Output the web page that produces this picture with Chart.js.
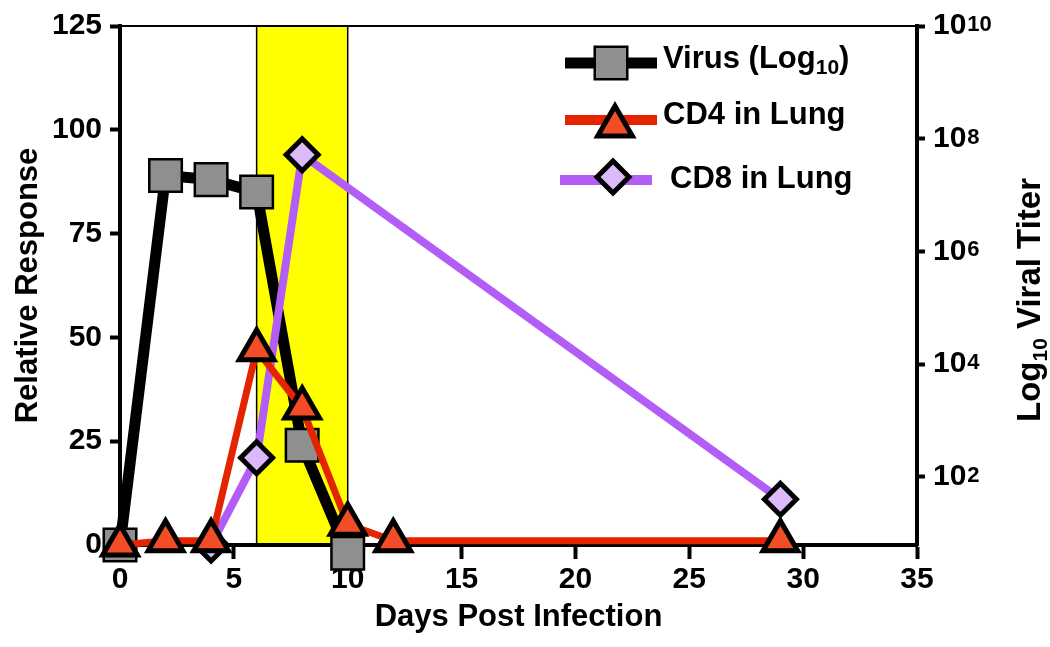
<!DOCTYPE html>
<html>
<head>
<meta charset="utf-8">
<script src="https://cdn.jsdelivr.net/npm/chart.js@4.4.0/dist/chart.umd.min.js"></script>
<style>
  html, body { margin: 0; padding: 0; background: #fff; }
</style>
</head>
<body>
<canvas id="chart" width="1050" height="647"></canvas>
<script>
// values (relative response, 0-125)
const virusDays = [0, 2, 4, 6, 8, 10];
const virusResponse = [0, 89, 88, 85, 24, -2];
const cd4Days = [0, 2, 4, 6, 8, 10, 12, 29];
const cd4Response = [0, 1, 1, 47, 33, 5, 1, 1];
const cd8Days = [4, 6, 8, 29];
const cd8Response = [0, 21, 94, 11];
const titerExponents = [2, 4, 6, 8, 10];
const shadedDays = [6, 10];

const FONT = "'Liberation Sans', Arial, Helvetica, sans-serif";
const BLACK = "#000";

const toPoints = (xs, ys) => xs.map((x, i) => ({ x: x, y: ys[i] }));

const bandPlugin = {
  id: "band",
  beforeDraw(chart) {
    const { ctx, chartArea, scales } = chart;
    const x0 = scales.x.getPixelForValue(shadedDays[0]);
    const x1 = scales.x.getPixelForValue(shadedDays[1]);
    ctx.save();
    ctx.fillStyle = "#ffff00";
    ctx.fillRect(x0, chartArea.top, x1 - x0, chartArea.bottom - chartArea.top);
    ctx.strokeStyle = BLACK;
    ctx.lineWidth = 1.5;
    ctx.beginPath();
    ctx.moveTo(x0, chartArea.top);
    ctx.lineTo(x0, chartArea.bottom);
    ctx.moveTo(x1, chartArea.top);
    ctx.lineTo(x1, chartArea.bottom);
    ctx.stroke();
    // thin frame line on top
    ctx.lineWidth = 2;
    ctx.beginPath();
    ctx.moveTo(chartArea.left, chartArea.top);
    ctx.lineTo(chartArea.right, chartArea.top);
    ctx.stroke();
    ctx.restore();
  },
};

const rightLabelsPlugin = {
  id: "rightLabels",
  afterDraw(chart) {
    const { ctx, chartArea } = chart;
    const y2 = chart.scales.y2;
    ctx.save();
    ctx.fillStyle = BLACK;
    titerExponents.forEach((e) => {
      const y = y2.getPixelForValue(10 ** e);
      const x = chartArea.right + 16;
      ctx.font = "bold 30px " + FONT;
      ctx.textBaseline = "middle";
      ctx.textAlign = "left";
      ctx.fillText("10", x, y);
      const w = ctx.measureText("10").width;
      ctx.font = "bold 22px " + FONT;
      ctx.textBaseline = "alphabetic";
      ctx.fillText(String(e), x + w + 1, y + 5);
    });

    // right axis title, reads bottom to top
    const cx = 1031;
    const cy = 300;
    ctx.translate(cx, cy);
    ctx.rotate(-Math.PI / 2);
    ctx.textBaseline = "middle";
    ctx.textAlign = "left";
    const big = "bold 33px " + FONT;
    const small = "bold 21px " + FONT;
    ctx.font = big;
    const wLog = ctx.measureText("Log").width;
    const wRest = ctx.measureText(" Viral Titer").width;
    ctx.font = small;
    const wSub = ctx.measureText("10").width;
    let x = -(wLog + wSub + wRest) / 2;
    ctx.font = big;
    ctx.fillText("Log", x, 0);
    x += wLog;
    ctx.font = small;
    ctx.fillText("10", x, 10);
    x += wSub;
    ctx.font = big;
    ctx.fillText(" Viral Titer", x, 0);
    ctx.restore();
  },
};

const legendPlugin = {
  id: "sideLegend",
  afterDraw(chart) {
    const { ctx } = chart;
    const sets = chart.data.datasets;
    const rows = [
      { ds: sets[2], x0: 565, x1: 657, y: 63, mx: 611, my: 63, tx: 663, ty: 68, lw: 11 },
      { ds: sets[0], x0: 565, x1: 657, y: 120, mx: 615, my: 126, tx: 663, ty: 124, lw: 10 },
      { ds: sets[1], x0: 560, x1: 652, y: 180, mx: 613, my: 177, tx: 670, ty: 188, lw: 10 },
    ];
    ctx.save();
    rows.forEach((r) => {
      const ds = r.ds;
      ctx.strokeStyle = ds.borderColor;
      ctx.lineWidth = r.lw;
      ctx.lineCap = "butt";
      ctx.beginPath();
      ctx.moveTo(r.x0, r.y);
      ctx.lineTo(r.x1, r.y);
      ctx.stroke();
      ctx.fillStyle = ds.pointBackgroundColor;
      ctx.strokeStyle = ds.pointBorderColor;
      ctx.lineWidth = ds.pointBorderWidth;
      ctx.lineJoin = "miter";
      Chart.helpers.drawPoint(ctx, {
        pointStyle: ds.pointStyle,
        radius: ds.pointRadius,
        rotation: 0,
        borderWidth: ds.pointBorderWidth,
      }, r.mx, r.my);

      ctx.fillStyle = BLACK;
      ctx.textAlign = "left";
      ctx.textBaseline = "alphabetic";
      ctx.font = "bold 31px " + FONT;
      if (ds.label === "Virus (Log10)") {
        let x = r.tx;
        ctx.fillText("Virus (Log", x, r.ty);
        x += ctx.measureText("Virus (Log").width;
        ctx.font = "bold 21px " + FONT;
        ctx.fillText("10", x, r.ty + 6);
        x += ctx.measureText("10").width;
        ctx.font = "bold 31px " + FONT;
        ctx.fillText(")", x, r.ty);
      } else {
        ctx.fillText(ds.label, r.tx, r.ty);
      }
    });
    ctx.restore();
  },
};

const axisTicks = (len) => ({
  display: true,
  drawOnChartArea: false,
  drawTicks: true,
  tickLength: len,
  tickWidth: 4,
  tickColor: BLACK,
});

const tickFont = { family: FONT, size: 30, weight: "bold" };
const titleFont = { family: FONT, size: 31, weight: "bold" };

new Chart(document.getElementById("chart"), {
  type: "line",
  data: {
    datasets: [
      {
        label: "CD4 in Lung",
        data: toPoints(cd4Days, cd4Response),
        yAxisID: "y",
        order: 0,
        borderColor: "#e42300",
        borderWidth: 7,
        pointStyle: "triangle",
        pointRadius: 20,
        pointBackgroundColor: "#f24d26",
        pointBorderColor: BLACK,
        pointBorderWidth: 5,
        tension: 0,
        clip: false,
      },
      {
        label: "CD8 in Lung",
        data: toPoints(cd8Days, cd8Response),
        yAxisID: "y",
        order: 1,
        borderColor: "#b25ef6",
        borderWidth: 8,
        pointStyle: "rectRot",
        pointRadius: 16,
        pointBackgroundColor: "#dcb9f8",
        pointBorderColor: BLACK,
        pointBorderWidth: 5,
        tension: 0,
        clip: false,
      },
      {
        label: "Virus (Log10)",
        data: toPoints(virusDays, virusResponse),
        yAxisID: "y",
        order: 2,
        borderColor: BLACK,
        borderWidth: 11,
        pointStyle: "rect",
        pointRadius: 23,
        pointBackgroundColor: "#8f8f8f",
        pointBorderColor: BLACK,
        pointBorderWidth: 2.5,
        tension: 0,
        clip: false,
      },
    ],
  },
  options: {
    responsive: false,
    animation: false,
    events: [],
    layout: { padding: { top: 20, left: 0, right: 0, bottom: 0 } },
    plugins: {
      legend: { display: false },
      tooltip: { enabled: false },
    },
    scales: {
      x: {
        type: "linear",
        min: 0,
        max: 35,
        ticks: { stepSize: 5, color: BLACK, font: tickFont, padding: 3 },
        grid: axisTicks(14),
        border: { display: true, width: 4, color: BLACK },
        title: {
          display: true,
          text: "Days Post Infection",
          color: BLACK,
          font: titleFont,
          padding: { top: 0, bottom: 11 },
        },
        afterFit: (s) => { s.height = 102; },
      },
      y: {
        position: "left",
        min: 0,
        max: 125,
        ticks: { stepSize: 25, color: BLACK, font: tickFont, padding: 8 },
        grid: axisTicks(10),
        border: { display: true, width: 4, color: BLACK },
        title: {
          display: true,
          text: "Relative Response",
          color: BLACK,
          font: titleFont,
          padding: { top: 10, bottom: 0 },
        },
        afterFit: (s) => { s.width = 120; },
      },
      y2: {
        type: "logarithmic",
        position: "right",
        min: 6.2,
        max: 1e10,
        afterBuildTicks: (s) => { s.ticks = titerExponents.map((e) => ({ value: 10 ** e })); },
        ticks: { display: false },
        grid: axisTicks(8),
        border: { display: true, width: 4, color: BLACK },
        afterFit: (s) => { s.width = 133; },
      },
    },
  },
  plugins: [bandPlugin, rightLabelsPlugin, legendPlugin],
});
</script>
</body>
</html>
